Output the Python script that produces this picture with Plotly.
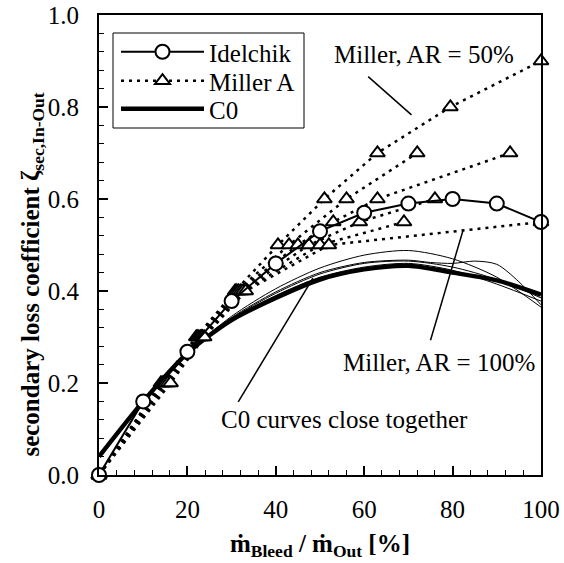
import plotly.graph_objects as go

# ---------------- data ----------------
idel_x = [0, 10, 20, 30, 40, 50, 60, 70, 80, 90, 100]
idel_y = [0.0, 0.16, 0.268, 0.378, 0.46, 0.53, 0.57, 0.59, 0.60, 0.59, 0.55]

# Miller (several area ratios), x read for given loss levels
miller_series = [
    ([0, 14.0, 22.0, 30.8, 40.5, 51.0, 63.0, 79.5, 100.0], [0, 0.2, 0.3, 0.4, 0.5, 0.6, 0.7, 0.8, 0.9]),
    ([0, 14.3, 22.3, 31.2, 43.0, 56.0, 72.0], [0, 0.2, 0.3, 0.4, 0.5, 0.6, 0.7]),
    ([0, 14.7, 22.6, 31.6, 45.0, 53.0, 63.0, 93.0], [0, 0.2, 0.3, 0.4, 0.5, 0.55, 0.6, 0.7]),
    ([0, 15.1, 23.0, 32.1, 47.5, 59.0, 76.0], [0, 0.2, 0.3, 0.4, 0.5, 0.55, 0.6]),
    ([0, 15.6, 23.4, 32.6, 50.0, 69.0], [0, 0.2, 0.3, 0.4, 0.5, 0.55]),
    ([0, 16.2, 23.8, 33.2, 52.0, 100.0], [0, 0.2, 0.3, 0.4, 0.5, 0.55]),
]

c0_x = [0, 10, 20, 30, 40, 50, 60, 70, 80, 90, 100]
c0_main = [0.04, 0.16, 0.265, 0.337, 0.385, 0.425, 0.447, 0.455, 0.44, 0.423, 0.392]
c0_thin = [
    (c0_x, [0.04, 0.16, 0.265, 0.345, 0.405, 0.45, 0.478, 0.488, 0.47, 0.43, 0.365]),
    ([0, 10, 20, 30, 40, 50, 60, 70, 75, 80, 85, 90, 95, 100],
     [0.04, 0.16, 0.265, 0.342, 0.398, 0.44, 0.462, 0.467, 0.462, 0.46, 0.465, 0.458, 0.42, 0.37]),
    (c0_x, [0.04, 0.16, 0.265, 0.34, 0.395, 0.437, 0.46, 0.465, 0.452, 0.425, 0.385]),
    (c0_x, [0.04, 0.16, 0.265, 0.338, 0.39, 0.43, 0.452, 0.46, 0.445, 0.415, 0.378]),
]

x_ticks = [0, 20, 40, 60, 80, 100]
y_ticks = [0.0, 0.2, 0.4, 0.6, 0.8, 1.0]

# annotation callouts: (text, text_x, text_y, line_x0, line_y0, line_x1, line_y1)
callouts = [
    ("Miller, AR = 50%", 73.5, 0.915, 60.9, 0.866, 70.7, 0.783),
    ("Miller, AR = 100%", 77.0, 0.245, 75.0, 0.293, 82.4, 0.533),
    ("C0 curves close together", 55.5, 0.12, 31.5, 0.159, 48.4, 0.428),
]

FONT = "Liberation Serif, Times New Roman, Times, serif"

# figure geometry (pixels)
W, H = 564, 563
ML, MR, MT, MB = 99, 23, 15, 88
PW, PH = W - ML - MR, H - MT - MB


def px_to_paper(px, py):
    return (px - ML) / PW, (H - MB - py) / PH


fig = go.Figure()

for xs, ys in c0_thin:
    fig.add_trace(go.Scatter(x=xs, y=ys, mode="lines", showlegend=False,
                             line=dict(color="black", width=1, shape="spline", smoothing=0.8),
                             hoverinfo="skip"))
fig.add_trace(go.Scatter(x=c0_x, y=c0_main, mode="lines", name="C0", legend="legend3",
                         line=dict(color="black", width=4.5, shape="spline", smoothing=0.8)))

for i, (xs, ys) in enumerate(miller_series):
    fig.add_trace(go.Scatter(x=xs, y=ys, mode="lines+markers", name="Miller A",
                             showlegend=(i == 0), legend="legend2",
                             line=dict(color="black", width=2.5, dash="3px,5px"),
                             marker=dict(symbol="triangle-up", size=13, color="white",
                                         line=dict(color="black", width=2)),
                             cliponaxis=False))

fig.add_trace(go.Scatter(x=idel_x, y=idel_y, mode="lines+markers", name="Idelchik", legend="legend",
                         line=dict(color="black", width=2),
                         marker=dict(symbol="circle", size=14, color="white",
                                     line=dict(color="black", width=2)),
                         cliponaxis=False))

for text, tx, ty, x0, y0, x1, y1 in callouts:
    fig.add_shape(type="line", xref="x", yref="y", x0=x0, y0=y0, x1=x1, y1=y1,
                  line=dict(color="black", width=1.5))
    fig.add_annotation(x=tx, y=ty, xref="x", yref="y", text=text, showarrow=False,
                       font=dict(family=FONT, size=25, color="black"))

fig.add_annotation(x=-0.15, y=0.435, xref="paper", yref="paper", textangle=-90, showarrow=False,
                   xanchor="center", yanchor="middle",
                   text="<b>secondary loss coefficient ζ<sub>sec,In-Out</sub></b>",
                   font=dict(family=FONT, size=25, color="black"))

# legend frame
bx0, by0 = px_to_paper(113, 128)
bx1, by1 = px_to_paper(304, 33)
fig.add_shape(type="rect", xref="paper", yref="paper", x0=bx0, y0=by0, x1=bx1, y1=by1,
              line=dict(color="black", width=1), fillcolor="white", layer="above")

axis_common = dict(showline=True, linecolor="black", linewidth=2, mirror=True,
                   ticks="inside", ticklen=9, tickwidth=1.5, tickcolor="black",
                   showgrid=False, zeroline=False, automargin=False,
                   tickfont=dict(family=FONT, size=25, color="black"))

fig.update_xaxes(range=[0, 100], tickvals=x_ticks, ticktext=[str(v) for v in x_ticks],
                 minor=dict(dtick=4, ticks="inside", ticklen=5, tickwidth=1, tickcolor="black"),
                 ticklabelstandoff=11,
                 title=dict(text="<b>ṁ<sub>Bleed</sub> / ṁ<sub>Out</sub> [%]</b>",
                            font=dict(family=FONT, size=25, color="black"), standoff=12),
                 **axis_common)
fig.update_yaxes(range=[0, 1], tickvals=y_ticks, ticktext=[f"{v:.1f}" for v in y_ticks],
                 minor=dict(dtick=0.04, ticks="inside", ticklen=5, tickwidth=1, tickcolor="black"),
                 ticklabelstandoff=13,
                 **axis_common)


def legend_at(center_py):
    lx, ly = px_to_paper(116, center_py)
    return dict(x=lx, y=ly, xanchor="left", yanchor="middle",
                borderwidth=0, bgcolor="rgba(0,0,0,0)",
                font=dict(family=FONT, size=25, color="black"),
                itemwidth=83, tracegroupgap=0)


fig.update_layout(
    width=W, height=H,
    margin=dict(l=ML, r=MR, t=MT, b=MB),
    paper_bgcolor="white", plot_bgcolor="white",
    font=dict(family=FONT, color="black"),
    showlegend=True,
    legend=legend_at(52),
    legend2=legend_at(81),
    legend3=legend_at(109),
)

fig.write_html("out.html")
